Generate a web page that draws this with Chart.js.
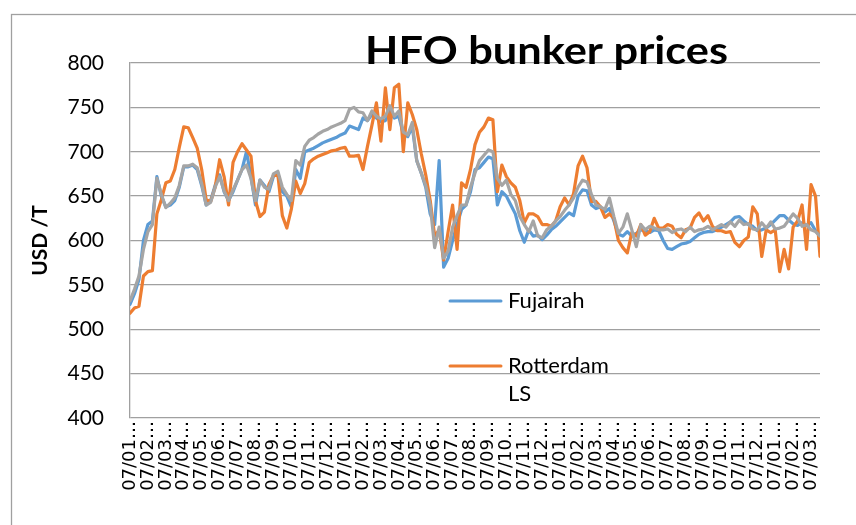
<!DOCTYPE html>
<html><head><meta charset="utf-8">
<script src="https://cdn.jsdelivr.net/npm/chart.js@4.4.1/dist/chart.umd.min.js"></script>
<style>html,body{margin:0;padding:0;background:#fff;}#wrap{width:856px;height:525px;}</style>
</head><body><div id="wrap"><canvas id="c" width="856" height="525"></canvas></div>
<script>
const chartTitle = 'HFO bunker prices';
const yAxisTitle = 'USD /T';
const monthLabels = [
 '07/01…','07/02…','07/03…','07/04…','07/05…','07/06…','07/07…','07/08…','07/09…','07/10…','07/11…','07/12…',
 '07/01…','07/02…','07/03…','07/04…','07/05…','07/06…','07/07…','07/08…','07/09…','07/10…','07/11…','07/12…',
 '07/01…','07/02…','07/03…','07/04…','07/05…','07/06…','07/07…','07/08…','07/09…','07/10…','07/11…','07/12…',
 '07/01…','07/02…','07/03…'];
const pointsPerMonth = 4;
const seriesNames = ['Fujairah', 'Rotterdam LS', 'Series 3'];
const seriesColors = ['#5B9BD5', '#ED7D31', '#A5A5A5'];
const fujairah = [
 528,540,556,600,618,622,672,650,638,640,
 645,660,683,683,685,680,662,640,645,662,
 674,655,645,655,668,680,700,672,640,668,
 662,655,672,676,655,650,638,680,670,700,
 702,704,707,710,712,714,716,719,721,729,
 727,725,738,735,742,738,734,735,746,738,
 740,720,717,728,690,676,660,630,618,690,
 570,580,600,618,635,640,655,680,682,688,
 694,692,640,655,650,640,630,611,598,612,
 605,606,601,606,612,616,621,626,631,628,
 650,657,656,640,636,638,632,636,622,607,
 605,610,605,608,612,611,609,612,611,600,
 591,590,593,596,597,599,603,607,609,610,
 610,612,615,618,621,626,627,622,618,616,
 611,612,614,618,623,628,628,623,619,617,
 620,617,620,611,605];
const rotterdamLS = [
 518,524,526,560,565,566,630,646,665,667,
 680,705,728,727,716,704,680,646,644,660,
 691,672,640,688,700,709,702,695,645,627,
 632,663,673,674,628,614,635,667,653,664,
 688,692,695,697,699,701,702,704,705,695,
 695,696,680,706,730,755,712,772,725,772,
 776,700,755,742,725,698,674,645,605,612,
 578,610,640,590,665,660,680,708,722,728,
 738,736,655,685,672,665,660,645,620,630,
 630,627,618,618,616,622,638,648,640,653,
 684,695,682,644,644,638,626,630,625,600,
 592,586,609,605,618,606,610,625,614,614,
 618,616,607,603,612,614,626,631,622,628,
 616,611,611,609,610,598,593,600,604,638,
 630,582,612,609,612,565,590,568,615,622,
 640,590,663,650,582];
const series3 = [
 532,545,560,590,610,618,670,652,637,642,
 648,662,684,684,686,682,664,640,643,660,
 672,656,645,657,668,680,685,670,645,668,
 660,658,675,678,660,652,645,690,685,706,
 713,716,720,723,725,728,730,732,735,748,
 750,745,744,735,746,740,737,740,752,740,
 746,722,719,733,690,676,662,640,592,615,
 580,588,615,628,640,640,660,676,690,696,
 702,700,670,662,668,652,645,627,618,610,
 622,605,603,612,616,622,627,634,640,648,
 660,668,666,652,640,638,635,648,627,608,
 615,630,612,593,618,612,616,614,612,612,
 613,609,612,613,610,615,610,612,613,616,
 612,615,618,615,621,616,623,618,619,613,
 612,620,614,621,613,614,616,623,630,625,
 616,618,612,610,605];
const yMin = 400, yMax = 800, yStep = 50;

const allSeries = [fujairah, rotterdamLS, series3];
const toPoints = arr => arr.map((v, i) => ({x: i / pointsPerMonth, y: v}));
const drawOrder = [2, 1, 0];

const frame = {
  id: 'frame',
  beforeDraw(chart) {
    const ctx = chart.ctx;
    ctx.save();
    ctx.fillStyle = '#fff';
    ctx.fillRect(0, 0, chart.width, chart.height);
    ctx.strokeStyle = '#a0a0a0';
    ctx.lineWidth = 1.3;
    ctx.strokeRect(11.5, 14.5, chart.width + 20, chart.height + 20);
    ctx.restore();
  }
};

function wrapText(ctx, text, maxW) {
  const words = text.split(' ');
  const lines = [];
  let cur = '';
  words.forEach(w => {
    const t = cur ? cur + ' ' + w : w;
    if (ctx.measureText(t).width > maxW && cur) { lines.push(cur); cur = w; }
    else cur = t;
  });
  if (cur) lines.push(cur);
  return lines;
}

const overlay = {
  id: 'overlay',
  afterDraw(chart) {
    const ctx = chart.ctx;
    ctx.save();
    ctx.font = 'bold 39px Lato';
    ctx.fillStyle = '#000';
    ctx.textBaseline = 'alphabetic';
    ctx.textAlign = 'left';
    const w = ctx.measureText(chartTitle).width;
    ctx.translate(365, 64);
    ctx.scale(363 / w, 1);
    ctx.fillText(chartTitle, 0, 0);
    ctx.restore();
    ctx.save();
    ctx.font = '22px Lato';
    ctx.textBaseline = 'middle';
    ctx.textAlign = 'left';
    const ys = [301, 366];
    [0, 1].forEach((di, j) => {
      const ds = chart.data.datasets[di];
      const y = ys[j];
      ctx.strokeStyle = ds.borderColor;
      ctx.lineWidth = 3;
      ctx.lineCap = 'round';
      ctx.beginPath(); ctx.moveTo(450, y); ctx.lineTo(501, y); ctx.stroke();
      ctx.fillStyle = '#000';
      wrapText(ctx, ds.label, 118).forEach((ln, li) => ctx.fillText(ln, 508, y + li * 28));
    });
    ctx.restore();
  }
};

new Chart(document.getElementById('c'), {
  type: 'line',
  data: {
    datasets: allSeries.map((s, i) => ({
      label: seriesNames[i],
      data: toPoints(s),
      borderColor: seriesColors[i],
      backgroundColor: seriesColors[i],
      borderWidth: 3.2,
      pointRadius: 0,
      tension: 0,
      borderJoinStyle: 'round',
      borderCapStyle: 'round',
      order: drawOrder[i]
    }))
  },
  options: {
    responsive: false,
    animation: false,
    devicePixelRatio: 1,
    layout: {padding: {top: 63, right: 36, left: 0, bottom: 0}},
    plugins: {legend: {display: false}, tooltip: {enabled: false}, title: {display: false}},
    scales: {
      x: {
        type: 'linear',
        min: 0,
        max: (fujairah.length - 1) / pointsPerMonth,
        grid: {display: false, drawTicks: false},
        border: {display: false},
        afterBuildTicks: s => { s.ticks = monthLabels.map((_, i) => ({value: i})); },
        afterFit: s => { s.height = 107; },
        ticks: {
          autoSkip: false, minRotation: 90, maxRotation: 90, padding: 3, color: '#000',
          font: {family: 'DejaVu Sans', size: 18},
          callback: v => monthLabels[Math.round(v)]
        }
      },
      y: {
        min: yMin, max: yMax,
        ticks: {stepSize: yStep, padding: 26, color: '#000', font: {family: 'Lato', size: 21}},
        grid: {color: '#a0a0a0', lineWidth: 1.3, drawTicks: false},
        border: {display: true, color: '#a0a0a0', width: 1.3},
        title: {display: true, text: yAxisTitle, color: '#000', font: {family: 'Lato', size: 21, weight: 'bold'}, padding: {top: 28, bottom: 0}},
        afterFit: s => { s.width = 130; }
      }
    }
  },
  plugins: [frame, overlay]
});
</script>
</body></html>
